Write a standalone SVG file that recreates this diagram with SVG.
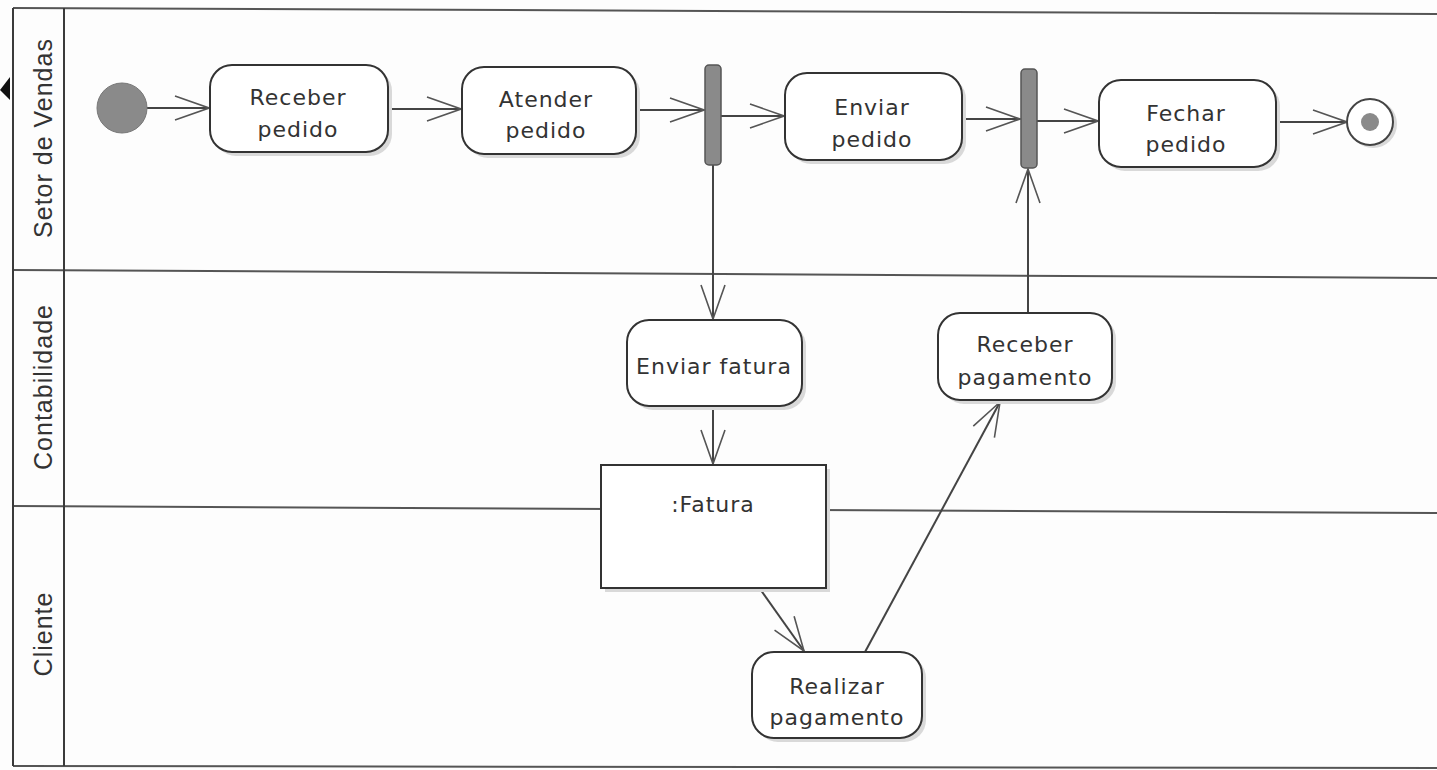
<svg xmlns="http://www.w3.org/2000/svg" width="1437" height="770" viewBox="0 0 1437 770">
  <style>
    .bg { fill: #fdfdfd; }
    .frame { stroke: #3a3a3a; stroke-width: 2; fill: none; }
    .lane { stroke: #555; stroke-width: 2; fill: none; }
    .lanelabel { font-family: "Liberation Sans", Arial, sans-serif; font-size: 25px; letter-spacing: 1px; fill: #333; text-anchor: middle; }
    .action { fill: #ffffff; stroke: #333; stroke-width: 2; }
    .shadow { fill: #d9d9d9; }
    .label { font-family: "DejaVu Sans", Verdana, sans-serif; font-size: 22px; letter-spacing: 1px; fill: #333; text-anchor: middle; }
    .bar { fill: #8a8a8a; stroke: #555; stroke-width: 1.5; }
    .flow { stroke: #444; stroke-width: 2; fill: none; marker-end: url(#open); }
  </style>
  <defs>
    <marker id="open" markerUnits="userSpaceOnUse" viewBox="-36 -15 38 30" markerWidth="38" markerHeight="30" refX="0" refY="0" orient="auto">
      <path d="M-34,-12 L0,0 L-34,12" fill="none" stroke="#555" stroke-width="1.6"/>
    </marker>
  </defs>

  <rect class="bg" x="0" y="0" width="1437" height="770"/>

  <!-- swimlane frame -->
  <g id="swimlanes">
    <line class="lane" x1="13" y1="8" x2="1437" y2="14"/>
    <line class="lane" x1="13" y1="270" x2="1437" y2="278"/>
    <line class="lane" x1="13" y1="506" x2="1437" y2="513"/>
    <line class="lane" x1="13" y1="766" x2="1437" y2="768"/>
    <line class="frame" x1="13" y1="8" x2="13" y2="766"/>
    <line class="frame" x1="64" y1="8" x2="64" y2="766"/>
    <text class="lanelabel" transform="translate(52,138) rotate(-90)">Setor de Vendas</text>
    <text class="lanelabel" transform="translate(52,387) rotate(-90)">Contabilidade</text>
    <text class="lanelabel" transform="translate(52,634) rotate(-90)">Cliente</text>
    <polygon points="10,77 10,100 0,90" fill="#111"/>
  </g>

  <!-- control flows -->
  <g id="connectors">
    <line class="flow" x1="147" y1="108" x2="209" y2="108"/>
    <line class="flow" x1="388" y1="109" x2="461" y2="109"/>
    <line class="flow" x1="636" y1="110" x2="704" y2="110"/>
    <line class="flow" x1="721" y1="116" x2="784" y2="116"/>
    <line class="flow" x1="962" y1="119" x2="1020" y2="119"/>
    <line class="flow" x1="1037" y1="121" x2="1098" y2="121"/>
    <line class="flow" x1="1276" y1="122" x2="1347" y2="122"/>
    <line class="flow" x1="713" y1="165" x2="713" y2="319"/>
    <line class="flow" x1="713" y1="408" x2="713" y2="464"/>
    <line class="flow" x1="760" y1="589" x2="804" y2="651"/>
    <line class="flow" x1="865" y1="652" x2="1000" y2="402"/>
    <line class="flow" x1="1028" y1="313" x2="1028" y2="169"/>
  </g>

  <g id="start">
    <circle cx="122" cy="108" r="25" fill="#8a8a8a" stroke="#777" stroke-width="1"/>
  </g>

  <g id="receber-pedido">
    <rect class="shadow" x="214" y="69" width="178" height="87" rx="22"/>
    <rect class="action" x="210" y="65" width="178" height="87" rx="22"/>
    <text class="label" x="298" y="105">Receber</text>
    <text class="label" x="298" y="137">pedido</text>
  </g>

  <g id="atender-pedido">
    <rect class="shadow" x="466" y="71" width="174" height="87" rx="22"/>
    <rect class="action" x="462" y="67" width="174" height="87" rx="22"/>
    <text class="label" x="546" y="107">Atender</text>
    <text class="label" x="546" y="138">pedido</text>
  </g>

  <g id="fork">
    <rect class="bar" x="705" y="65" width="16" height="100" rx="4"/>
  </g>

  <g id="enviar-pedido">
    <rect class="shadow" x="789" y="77" width="177" height="87" rx="22"/>
    <rect class="action" x="785" y="73" width="177" height="87" rx="22"/>
    <text class="label" x="872" y="115">Enviar</text>
    <text class="label" x="872" y="147">pedido</text>
  </g>

  <g id="join">
    <rect class="bar" x="1021" y="69" width="16" height="99" rx="4"/>
  </g>

  <g id="fechar-pedido">
    <rect class="shadow" x="1103" y="84" width="177" height="87" rx="22"/>
    <rect class="action" x="1099" y="80" width="177" height="87" rx="22"/>
    <text class="label" x="1186" y="121">Fechar</text>
    <text class="label" x="1186" y="152">pedido</text>
  </g>

  <g id="end">
    <circle cx="1373" cy="124" r="24" fill="#d9d9d9"/>
    <circle cx="1370" cy="122" r="23" fill="#fff" stroke="#444" stroke-width="2"/>
    <circle cx="1370" cy="122" r="9" fill="#8a8a8a"/>
  </g>

  <g id="enviar-fatura">
    <rect class="shadow" x="631" y="324" width="175" height="86" rx="22"/>
    <rect class="action" x="627" y="320" width="175" height="86" rx="22"/>
    <text class="label" x="714" y="374">Enviar fatura</text>
  </g>

  <g id="receber-pagamento">
    <rect class="shadow" x="942" y="317" width="174" height="87" rx="22"/>
    <rect class="action" x="938" y="313" width="174" height="87" rx="22"/>
    <text class="label" x="1025" y="352">Receber</text>
    <text class="label" x="1025" y="385">pagamento</text>
  </g>

  <g id="fatura">
    <rect class="shadow" x="605" y="469" width="225" height="123"/>
    <rect class="action" x="601" y="465" width="225" height="123"/>
    <text class="label" x="713" y="512">:Fatura</text>
  </g>

  <g id="realizar-pagamento">
    <rect class="shadow" x="756" y="656" width="170" height="86" rx="22"/>
    <rect class="action" x="752" y="652" width="170" height="86" rx="22"/>
    <text class="label" x="837" y="694">Realizar</text>
    <text class="label" x="837" y="725">pagamento</text>
  </g>
</svg>
